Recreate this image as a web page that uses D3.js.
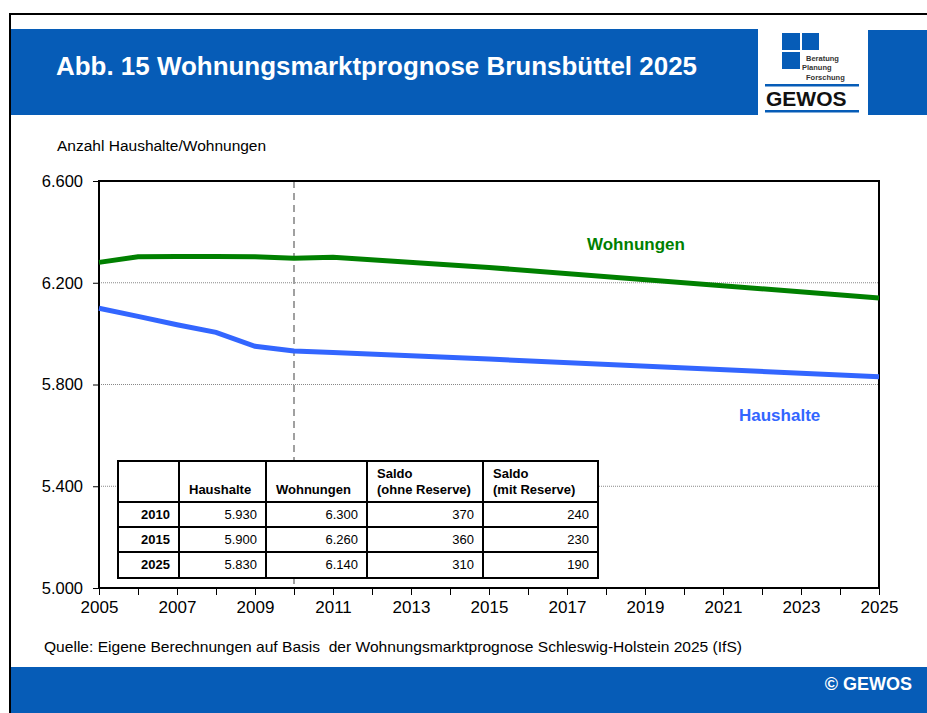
<!DOCTYPE html>
<html>
<head>
<meta charset="utf-8">
<script src="https://cdn.jsdelivr.net/npm/d3@7"></script>
<style>
  body { margin: 0; background: #fff; }
  svg { display: block; font-family: "Liberation Sans", Arial, sans-serif; }
</style>
</head>
<body>
<div id="canvas"></div>
<script>
const width = 927;
const height = 713;

// Verlauf
var wohnYears = [2005, 2006, 2007, 2008, 2009, 2010, 2011, 2015, 2025];
var wohnValues = [6280, 6302, 6303, 6303, 6302, 6296, 6300, 6260, 6140];
var hhYears = [2005, 2006, 2007, 2008, 2009, 2010, 2011, 2015, 2025];
var hhValues = [6100, 6068, 6035, 6005, 5950, 5932, 5926, 5900, 5830];

var yTicks = [5000, 5400, 5800, 6200, 6600];
var gridValues = [5400, 5800, 6200];

// Tabelle
var tableYears = [2010, 2015, 2025];
var tableHaushalte = [5930, 5900, 5830];
var tableWohnungen = [6300, 6260, 6140];
var tableSaldoOhne = [370, 360, 310];
var tableSaldoMit = [240, 230, 190];
var tableHeaders = [[""], ["Haushalte"], ["Wohnungen"], ["Saldo", "(ohne Reserve)"], ["Saldo", "(mit Reserve)"]];

const blue = "#065cb7";
const de = d3.formatLocale({decimal: ",", thousands: ".", grouping: [3], currency: ["", " €"]});
const fmt = de.format(",d");

const svg = d3.select("#canvas")
    .append("svg")
    .attr("width", width)
    .attr("height", height);

// Rahmen
svg.append("path")
    .attr("d", "M10,713 V14 H927")
    .attr("fill", "none")
    .attr("stroke", "#000")
    .attr("stroke-width", 2);

// Kopfzeile
svg.append("rect").attr("x", 11).attr("y", 29).attr("width", 747).attr("height", 86).attr("fill", blue);
svg.append("rect").attr("x", 868).attr("y", 30).attr("width", 59).attr("height", 85).attr("fill", blue);
svg.append("text")
    .attr("x", 56).attr("y", 75)
    .attr("fill", "#fff")
    .attr("font-size", 25.5)
    .attr("font-weight", "bold")
    .attr("textLength", 641)
    .attr("lengthAdjust", "spacingAndGlyphs")
    .text("Abb. 15 Wohnungsmarktprognose Brunsbüttel 2025");

// Logo
var logo = svg.append("g");
logo.append("rect").attr("x", 782).attr("y", 33).attr("width", 18).attr("height", 17).attr("fill", blue);
logo.append("rect").attr("x", 802).attr("y", 33).attr("width", 17).attr("height", 17).attr("fill", blue);
logo.append("rect").attr("x", 782).attr("y", 52).attr("width", 18).attr("height", 17).attr("fill", blue);
logo.append("text").attr("x", 806).attr("y", 61).attr("font-size", 7.5).attr("font-weight", "bold").attr("fill", "#333").text("Beratung");
logo.append("text").attr("x", 802).attr("y", 70).attr("font-size", 7.5).attr("font-weight", "bold").attr("fill", "#333").text("Planung");
logo.append("text").attr("x", 806).attr("y", 80).attr("font-size", 7.5).attr("font-weight", "bold").attr("fill", "#333").text("Forschung");
logo.append("rect").attr("x", 765).attr("y", 84).attr("width", 94).attr("height", 2.5).attr("fill", blue);
logo.append("rect").attr("x", 765).attr("y", 110).attr("width", 94).attr("height", 2.5).attr("fill", blue);
logo.append("text").attr("x", 766).attr("y", 106).attr("font-size", 21).attr("font-weight", "bold").attr("fill", "#111").text("GEWOS");

// Fußzeile
svg.append("rect").attr("x", 11).attr("y", 667).attr("width", 916).attr("height", 46).attr("fill", blue);
svg.append("text")
    .attr("x", 912).attr("y", 690)
    .attr("text-anchor", "end")
    .attr("fill", "#fff")
    .attr("font-size", 18)
    .attr("font-weight", "bold")
    .text("© GEWOS");

svg.append("text")
    .attr("x", 44).attr("y", 652)
    .attr("font-size", 15)
    .attr("fill", "#000")
    .attr("textLength", 698)
    .attr("lengthAdjust", "spacingAndGlyphs")
    .style("white-space", "pre")
    .text("Quelle: Eigene Berechnungen auf Basis  der Wohnungsmarktprognose Schleswig-Holstein 2025 (IfS)");

svg.append("text")
    .attr("x", 57).attr("y", 151)
    .attr("font-size", 15.5)
    .attr("fill", "#000")
    .text("Anzahl Haushalte/Wohnungen");

// Diagramm
const x = d3.scaleLinear([2005, 2025], [99, 879]);
const y = d3.scaleLinear([5000, 6600], [588, 181]);

svg.append("g")
    .selectAll("line")
    .data(gridValues)
    .join("line")
    .attr("x1", x(2005)).attr("x2", x(2025))
    .attr("y1", d => y(d)).attr("y2", d => y(d))
    .attr("stroke", "#888")
    .attr("stroke-width", 1)
    .attr("stroke-dasharray", "1,1");

svg.append("line")
    .attr("x1", x(2010)).attr("x2", x(2010))
    .attr("y1", y(6600)).attr("y2", y(5000))
    .attr("stroke", "#a0a0a0")
    .attr("stroke-width", 2)
    .attr("stroke-dasharray", "7,5");

const yAxis = svg.append("g")
    .attr("transform", `translate(${x(2005)},0)`)
    .call(d3.axisLeft(y).tickValues(yTicks).tickSize(6).tickPadding(10).tickFormat(fmt));
yAxis.select(".domain").remove();
yAxis.selectAll("line").attr("stroke", "#000");
yAxis.selectAll("text").attr("font-size", 16.5).attr("fill", "#000").attr("font-family", "Liberation Sans, Arial, sans-serif");

const xAxis = svg.append("g")
    .attr("transform", `translate(0,${y(5000)})`)
    .call(d3.axisBottom(x).tickValues(d3.range(2005, 2026)).tickSize(7).tickPadding(6)
        .tickFormat(d => (d - 2005) % 2 === 0 ? String(d) : ""));
xAxis.select(".domain").remove();
xAxis.selectAll("line").attr("stroke", "#000");
xAxis.selectAll("text").attr("font-size", 17).attr("fill", "#000").attr("font-family", "Liberation Sans, Arial, sans-serif");

// Plotrahmen
svg.append("rect")
    .attr("x", x(2005)).attr("y", y(6600))
    .attr("width", x(2025) - x(2005))
    .attr("height", y(5000) - y(6600))
    .attr("fill", "none")
    .attr("stroke", "#000")
    .attr("stroke-width", 2);

const line = d3.line().x(d => x(d[0])).y(d => y(d[1]));

svg.append("path")
    .datum(d3.zip(wohnYears, wohnValues))
    .attr("d", line)
    .attr("fill", "none")
    .attr("stroke", "#008000")
    .attr("stroke-width", 5);

svg.append("path")
    .datum(d3.zip(hhYears, hhValues))
    .attr("d", line)
    .attr("fill", "none")
    .attr("stroke", "#3366ff")
    .attr("stroke-width", 5);

svg.append("text").attr("x", 587).attr("y", 250)
    .attr("font-size", 17).attr("font-weight", "bold").attr("fill", "#008000").text("Wohnungen");
svg.append("text").attr("x", 739).attr("y", 421)
    .attr("font-size", 17).attr("font-weight", "bold").attr("fill", "#3366ff").text("Haushalte");

// Tabelle
const colEdges = [118, 179, 266, 367, 483, 598];
const rowEdges = [461, 502, 527, 552, 578];
const tbl = svg.append("g");
tbl.append("rect")
    .attr("x", colEdges[0]).attr("y", rowEdges[0])
    .attr("width", colEdges[5] - colEdges[0]).attr("height", rowEdges[4] - rowEdges[0])
    .attr("fill", "#fff");
tbl.selectAll(".vline").data(colEdges).join("line")
    .attr("x1", d => d).attr("x2", d => d)
    .attr("y1", rowEdges[0]).attr("y2", rowEdges[4])
    .attr("stroke", "#000").attr("stroke-width", 2);
tbl.selectAll(".hline").data(rowEdges).join("line")
    .attr("class", "hline")
    .attr("x1", colEdges[0] - 1).attr("x2", colEdges[5] + 1)
    .attr("y1", d => d).attr("y2", d => d)
    .attr("stroke", "#000").attr("stroke-width", 2);

tableHeaders.forEach((lines, c) => {
    lines.forEach((t, k) => {
        tbl.append("text")
            .attr("x", colEdges[c] + 10)
            .attr("y", rowEdges[1] - 8 - (lines.length - 1 - k) * 16)
            .attr("font-size", 13).attr("font-weight", "bold").attr("fill", "#000")
            .text(t);
    });
});

var tableRows = tableYears.map((yr, i) => [String(yr), fmt(tableHaushalte[i]), fmt(tableWohnungen[i]), fmt(tableSaldoOhne[i]), fmt(tableSaldoMit[i])]);
tableRows.forEach((row, r) => {
    row.forEach((t, c) => {
        tbl.append("text")
            .attr("x", colEdges[c + 1] - 9)
            .attr("y", rowEdges[r + 1] + 17)
            .attr("text-anchor", "end")
            .attr("font-size", 13)
            .attr("font-weight", c === 0 ? "bold" : "normal")
            .attr("fill", "#000")
            .text(t);
    });
});
</script>
</body>
</html>
